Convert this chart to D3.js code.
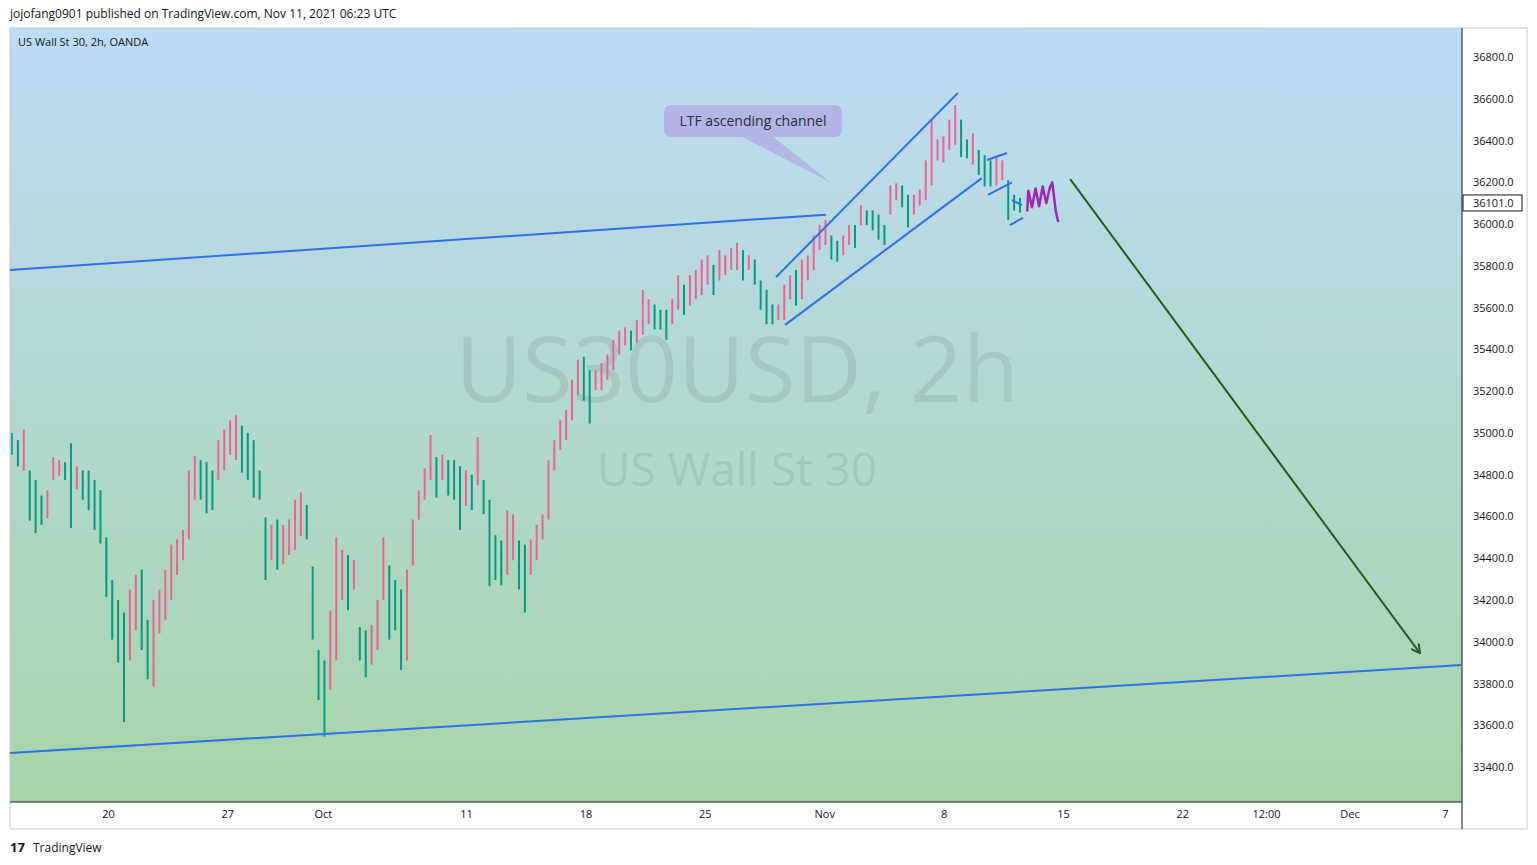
<!DOCTYPE html>
<html><head><meta charset="utf-8">
<script src="https://cdn.jsdelivr.net/npm/d3@7"></script>
<style>body{margin:0;background:#fff;font-family:"Open Sans",Roboto,sans-serif}</style>
</head><body><svg id="c" width="1537" height="865"></svg>
<script>
// ---- data ----
const highs = [35000,34965,35015,34820,34775,34700,34725,34885,34870,34860,34950,34840,34820,34820,34775,34725,34500,34295,34200,34140,34250,34320,34345,34105,34200,34250,34345,34465,34490,34535,34820,34890,34870,34860,34820,34965,35015,35060,35085,35035,35000,34965,34820,34595,34560,34585,34560,34585,34680,34715,34655,34360,33960,33910,34150,34500,34440,34415,34390,34070,34055,34080,34200,34500,34365,34295,34250,34345,34585,34725,34830,34990,34885,34895,34870,34870,34840,34820,34800,34980,34775,34680,34510,34485,34630,34610,34485,34465,34490,34560,34610,34870,34965,35060,35110,35255,35350,35365,35300,35300,35335,35375,35445,35490,35505,35490,35540,35685,35640,35615,35590,35590,35640,35755,35710,35755,35780,35830,35850,35805,35875,35850,35885,35910,35875,35850,35830,35730,35685,35615,35615,35710,35755,35780,35830,35850,35945,35995,36020,35945,35920,35945,35995,35995,36090,36065,36065,36045,35995,36185,36195,36185,36140,36140,36165,36305,36500,36405,36420,36500,36570,36500,36405,36435,36355,36330,36305,36320,36305,36210,36140,36125];
const lows = [34895,34840,34820,34580,34520,34560,34590,34775,34795,34775,34545,34730,34680,34630,34535,34470,34215,34010,33900,33615,33910,34055,33960,33820,33785,34040,34105,34200,34320,34390,34490,34680,34680,34615,34630,34775,34820,34895,34870,34810,34775,34690,34680,34295,34390,34345,34370,34415,34440,34505,34490,34010,33720,33545,33770,33910,34200,34150,34250,33910,33830,33890,33960,34200,34010,34055,33865,33910,34365,34585,34680,34775,34690,34775,34700,34680,34535,34650,34630,34750,34610,34265,34295,34270,34320,34390,34250,34140,34320,34390,34490,34585,34820,34920,34965,35060,35180,35155,35045,35205,35205,35255,35300,35375,35420,35395,35430,35470,35520,35495,35495,35445,35520,35590,35565,35610,35640,35660,35710,35660,35730,35755,35780,35780,35730,35780,35710,35590,35520,35520,35540,35540,35640,35610,35640,35730,35780,35875,35900,35830,35820,35850,35900,35885,35995,35995,35970,35925,35900,36045,36115,36080,35985,36045,36090,36115,36185,36305,36295,36355,36380,36320,36315,36285,36235,36180,36180,36185,36210,36020,36065,36055];
const firstDay = -4.02, lastDay = 38.2;           // trading-day units, 0 = Sep 20
const priceTicks = d3.range(33400, 36801, 200);
const dateTicks = [{d:0,t:"20"},{d:5,t:"27"},{d:9,t:"Oct"},{d:15,t:"11"},{d:20,t:"18"},{d:25,t:"25"},{d:30,t:"Nov"},{d:35,t:"8"},{d:40,t:"15"},{d:45,t:"22"},{d:48.5,t:"12:00"},{d:52,t:"Dec"},{d:56,t:"7"}];
const longUpper = [{d:-4.1,p:35780},{d:30.07,p:36045}];
const longLower = [{d:-4.1,p:33467},{d:56.7,p:33888}];
const chanUpper = [{d:27.98,p:35746},{d:35.6,p:36628}];
const chanLower = [{d:28.36,p:35517},{d:36.6,p:36220}];
const flagUpper = [{d:36.82,p:36307},{d:37.65,p:36340}];
const flagLower = [{d:36.86,p:36140},{d:37.86,p:36200}];
const triUpper = [{d:37.86,p:36115},{d:38.28,p:36091}];
const triLower = [{d:37.78,p:35995},{d:38.32,p:36030}];
const arrowPts = [{d:40.3,p:36215},{d:54.95,p:33945}];
const squiggle = [{d:38.5,p:36060},{d:38.55,p:36160},{d:38.7,p:36080},{d:38.85,p:36170},{d:39.0,p:36085},{d:39.15,p:36180},{d:39.3,p:36100},{d:39.45,p:36175},{d:39.55,p:36200},{d:39.7,p:36060},{d:39.8,p:36010}];
const lastPrice = 36101.0;

// ---- layout ----
const svg = d3.select("#c");
const L=10, R=1462, T=28, B=802;
const x = d3.scaleLinear().domain([0,40]).range([108,1063]);
const y = d3.scaleLinear().domain([33400,36800]).range([767,57]);
const defs = svg.append("defs");
const g = defs.append("linearGradient").attr("id","bg").attr("x1",0).attr("x2",0).attr("y1",0).attr("y2",1);
g.append("stop").attr("offset","0").attr("stop-color","#bddbf6");
g.append("stop").attr("offset","1").attr("stop-color","#a6d5a8");
defs.append("clipPath").attr("id","cp").append("rect").attr("x",L).attr("y",T).attr("width",R-L).attr("height",B-T);
defs.append("marker").attr("id","ah").attr("viewBox","0 0 10 10").attr("refX",9).attr("refY",5).attr("markerWidth",10).attr("markerHeight",10).attr("orient","auto").attr("markerUnits","userSpaceOnUse")
  .append("path").attr("d","M0,0 L9,5 L0,10").attr("fill","none").attr("stroke","#1e5e1e").attr("stroke-width",2);

svg.append("text").attr("x",10).attr("y",18).attr("font-size",12).attr("fill","#131722").text("jojofang0901 published on TradingView.com, Nov 11, 2021 06:23 UTC");
svg.append("rect").attr("x",L).attr("y",T).attr("width",R-L).attr("height",B-T).attr("fill","url(#bg)");
svg.append("rect").attr("x",L).attr("y",T).attr("width",1527-L).attr("height",829-T).attr("fill","none").attr("stroke","#c8c8c8");
svg.append("line").attr("x1",R).attr("x2",R).attr("y1",T).attr("y2",829).attr("stroke","#131722");
svg.append("line").attr("x1",L).attr("x2",R).attr("y1",B).attr("y2",B).attr("stroke","#131722");

const plot = svg.append("g").attr("clip-path","url(#cp)");
plot.append("text").attr("x",737).attr("y",402).attr("text-anchor","middle").attr("font-size",92).attr("fill","#000").attr("opacity",0.07).text("US30USD, 2h");
plot.append("text").attr("x",737).attr("y",486).attr("text-anchor","middle").attr("font-size",46).attr("fill","#000").attr("opacity",0.07).text("US Wall St 30");
svg.append("text").attr("x",18).attr("y",46).attr("font-size",11).attr("fill","#131722").text("US Wall St 30, 2h, OANDA");

// bars
const n = highs.length;
const bars = highs.map((h,i)=>({d:firstDay+(lastDay-firstDay)*i/(n-1),h,l:lows[i]}));
plot.selectAll("line.bar").data(bars).join("line").attr("class","bar")
  .attr("x1",b=>x(b.d)).attr("x2",b=>x(b.d)).attr("y1",b=>y(b.h)).attr("y2",b=>y(b.l))
  .attr("stroke",(b,i)=>{ if(i===0) return "#26a69a"; const m=(b.h+b.l)/2, pm=(bars[i-1].h+bars[i-1].l)/2; return m>=pm?"#f06292":"#089981";})
  .attr("stroke-width",2);

const ln = d3.line().x(p=>x(p.d)).y(p=>y(p.p));
[longUpper,longLower,chanUpper,chanLower,flagUpper,flagLower,triUpper,triLower].forEach(s=>
  plot.append("path").attr("d",ln(s)).attr("fill","none").attr("stroke","#2d6fee").attr("stroke-width",2));
plot.append("path").attr("d",ln(squiggle.slice(0))).attr("fill","none").attr("stroke","#9c27b0").attr("stroke-width",2.5).attr("stroke-linejoin","round");
plot.append("path").attr("d",ln(arrowPts)).attr("fill","none").attr("stroke","#1e5e1e").attr("stroke-width",2).attr("marker-end","url(#ah)");

// callout
plot.append("path").attr("d","M740,136 L830,182 L772,136 Z").attr("fill","#b3b2e6").attr("opacity",0.9);
plot.append("rect").attr("x",664).attr("y",105).attr("width",178).attr("height",32).attr("rx",7).attr("fill","#b3b2e6").attr("opacity",0.95);
plot.append("text").attr("x",753).attr("y",126).attr("text-anchor","middle").attr("font-size",14).attr("fill","#2a2e39").text("LTF ascending channel");

// axes
const ya = svg.append("g").attr("transform",`translate(${R},0)`).call(d3.axisRight(y).tickValues(priceTicks).tickFormat(d=>d.toFixed(1)).tickSize(0).tickPadding(11));
ya.select(".domain").remove(); ya.selectAll("text").attr("font-size",11).attr("fill","#131722").attr("font-family","Open Sans, sans-serif");
const xa = svg.append("g").attr("transform",`translate(0,${B})`).call(d3.axisBottom(x).tickValues(dateTicks.map(t=>t.d)).tickFormat((d,i)=>dateTicks[i].t).tickSize(0).tickPadding(8));
xa.select(".domain").remove(); xa.selectAll("text").attr("font-size",11).attr("fill","#131722").attr("font-family","Open Sans, sans-serif");

// last price label
svg.append("rect").attr("x",R+1).attr("y",y(lastPrice)-8).attr("width",59).attr("height",16).attr("fill","#fff").attr("stroke","#131722");
svg.append("text").attr("x",R+11).attr("y",y(lastPrice)+4).attr("font-size",11).attr("fill","#131722").text(lastPrice.toFixed(1));

// footer
svg.append("text").attr("x",10).attr("y",852).attr("font-size",13).attr("font-weight","bold").attr("fill","#131722").text("17");
svg.append("text").attr("x",33).attr("y",852).attr("font-size",12).attr("fill","#131722").text("TradingView");
</script></body></html>
